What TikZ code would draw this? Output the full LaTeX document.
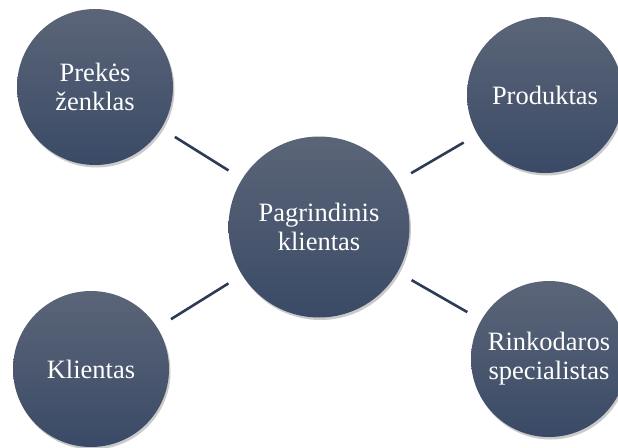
\documentclass[tikz,border=0pt]{standalone}
\usepackage{fontspec}
\setmainfont{Liberation Serif}
\usepackage{tikz}
\usetikzlibrary{shadows,positioning}
\definecolor{Top}{HTML}{5B6578}
\definecolor{Bottom}{HTML}{3A4A66}
\definecolor{Link}{HTML}{2D3B55}
\tikzset{
  bubble/.style={circle,minimum size=156pt,inner sep=0pt,top color=Top,bottom color=Bottom,draw=none,align=center,text=white,font=\fontsize{26.5}{29}\selectfont,drop shadow={shadow xshift=1.5pt,shadow yshift=-2.5pt,opacity=0.35,fill=black!60}},
  hub/.style={bubble,minimum size=181pt},
  link/.style={line width=2.6pt,color=Link,shorten <=16pt,shorten >=16pt}
}
\begin{document}
\begin{tikzpicture}[x=1pt,y=-1pt]
  \useasboundingbox (0,0) rectangle (618,447);
  \node[hub] (main) at (319,227) {Pagrindinis\\klientas};
  \node[bubble] (brand) at (95,87) {Prekės\\ženklas};
  \node[bubble] (product) at (545,95) {Produktas};
  \node[bubble] (client) at (91,369) {Klientas};
  \node[bubble] (market) at (549,359) {Rinkodaros\\specialistas};
  \draw[link] (brand) -- (main);
  \draw[link] (product) -- (main);
  \draw[link] (client) -- (main);
  \draw[link] (market) -- (main);
\end{tikzpicture}
\end{document}
